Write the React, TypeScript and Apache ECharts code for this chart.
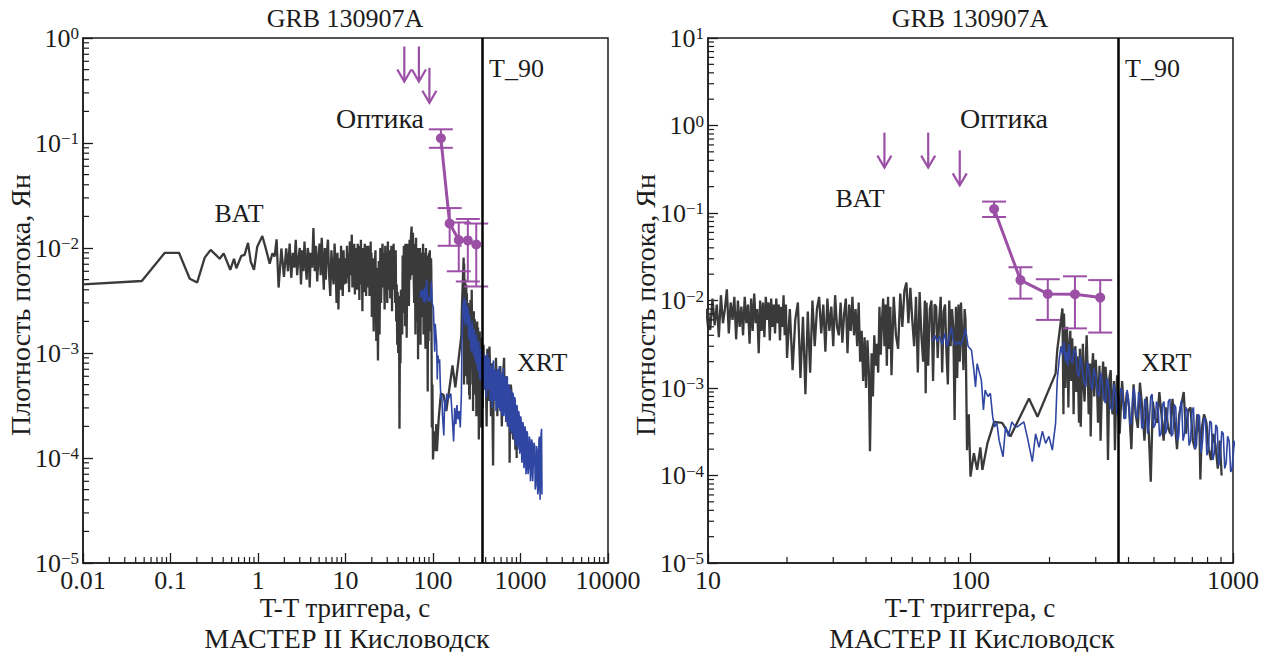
import React, { useEffect, useRef } from 'react';
import * as echarts from 'echarts';

const FONT = '"Liberation Serif", "Times New Roman", serif';
const INK = '#1c1c1c';
const BAT_COLOR = '#3a3a3a';
const XRT_COLOR = '#2f46a3';
const OPT_COLOR = '#9b50a6';

const T90 = 364;
const MILLI = 1e-3;

// Swift/BAT light curve: time (s) and flux density (mJy)
const batTime = [
  0.01, 0.047, 0.086, 0.125, 0.166, 0.202, 0.246, 0.288, 0.365, 0.405,
  0.482, 0.532, 0.565, 0.644, 0.703, 0.769, 0.826, 0.9, 0.98, 1.12,
  1.24, 1.36, 1.46, 1.55, 1.63, 1.72, 1.85, 1.98,
  2.1, 2.2, 2.3, 2.4, 2.5, 2.6, 2.7, 2.8, 2.9, 3.0,
  3.1, 3.2, 3.3, 3.4, 3.5, 3.6, 3.7, 3.8, 3.9, 4.0,
  4.15, 4.3, 4.45, 4.6, 4.75, 4.9, 5.05, 5.2, 5.35, 5.5,
  5.65, 5.8, 5.95, 6.1, 6.3, 6.5, 6.7, 6.9, 7.1, 7.3,
  7.5, 7.7, 7.9, 8.1, 8.3, 8.5, 8.7, 8.9, 9.1, 9.3,
  9.5, 9.7, 9.9,
  10.0, 10.2, 10.4, 10.6, 10.8, 11.0, 11.2, 11.4, 11.6, 11.8,
  12.0, 12.2, 12.4, 12.6, 12.8, 13.0, 13.2, 13.4, 13.6, 13.8,
  14.0, 14.2, 14.4, 14.6, 14.8, 15.0, 15.2, 15.4, 15.6, 15.8,
  16.0, 16.2, 16.4, 16.6, 16.8, 17.0, 17.2, 17.4, 17.6, 17.8,
  18.0, 18.2, 18.4, 18.6, 18.8, 19.0, 19.2, 19.4, 19.6, 19.8,
  20.0, 20.5, 21.0, 21.5, 22.0, 22.5, 23.0, 23.5, 24.0, 24.5,
  25.0, 25.5, 26.0, 26.5, 27.0, 27.5, 28.0, 28.5, 29.0, 29.5,
  30.0, 30.5, 31.0, 31.5, 32.0, 32.5, 33.0, 33.5, 34.0, 34.5,
  35.0, 35.5, 36.0, 36.5, 37.0, 37.5, 38.0, 38.5, 39.0, 39.5,
  40.0, 40.5, 41.0, 41.4, 42.0, 42.5, 43.0, 43.5, 44.0, 44.5,
  45.0, 45.5, 46.0, 46.5, 47.0, 47.5, 48.0, 48.5, 49.0, 49.5,
  50, 51, 52, 53, 54, 55, 56, 57, 58, 59,
  60, 61, 62, 63, 64, 65, 66, 67, 67.5, 68,
  69, 70, 71, 72, 73, 74, 75, 76, 77, 78,
  79, 80, 81, 82, 83, 84, 85, 86, 87, 88,
  89, 90, 91, 92, 93, 94, 95, 95.7, 97, 98.5,
  100, 103, 106, 109, 111, 116, 123, 132, 142, 167,
  180, 211, 214,
  224, 225, 226, 227, 229, 230, 232, 233, 235, 236,
  238, 240, 242, 244, 246, 247, 249, 251, 253, 255,
  257, 259, 261, 263, 266, 268, 270, 272, 275, 277,
  280, 282, 285, 287, 290, 293, 296, 300, 303, 306,
  310, 313, 317, 320, 324, 327, 331, 334, 338, 342,
  345, 348, 352, 355, 359, 362,
  370, 378, 386, 394, 402, 410, 418, 426, 434, 442,
  451, 460, 469, 478, 486, 495, 504, 514, 524, 534,
  544, 555, 566, 577, 588, 600, 612, 624, 636, 649,
  662, 675, 689, 703, 717, 731, 746, 751, 761, 776,
  792, 808, 824, 841, 858, 875, 892, 905,
];
const batFlux = [
  4.5, 4.85, 9.0, 9.0, 5.1, 4.7, 8.1, 9.6, 7.9, 8.9,
  6.2, 7.9, 6.4, 8.4, 8.6, 11.2, 7.4, 6.2, 10.3, 13.0,
  9.6, 7.1, 8.9, 8.3, 12.1, 4.2, 9.9, 5.3,
  9.9, 6.0, 11.0, 5.2, 9.0, 6.5, 12.0, 5.5, 8.0, 10.0,
  4.5, 9.5, 6.0, 11.5, 7.0, 5.0, 10.0, 8.5, 4.2, 9.0,
  6.5, 15.5, 6.0, 10.5, 4.8, 8.0, 11.0, 5.5, 12.5, 7.0,
  4.0, 10.0, 5.0, 8.5, 12.0, 5.5, 3.5, 9.5, 6.0, 4.5,
  11.0, 7.0, 3.0, 9.0, 2.6, 8.0, 4.0, 10.5, 5.5, 3.5,
  9.5, 4.5, 8.0,
  7.5, 4.6, 10.5, 5.2, 9.0, 3.8, 11.5, 5.5, 8.0, 13.4,
  4.2, 9.5, 6.0, 11.0, 3.6, 10.0, 5.0, 8.5, 4.0, 11.0,
  5.5, 9.0, 3.2, 10.5, 4.5, 12.0, 5.5, 8.0, 2.5, 10.0,
  4.5, 9.5, 3.8, 11.0, 6.0, 9.5, 3.5, 10.5, 5.0, 9.0,
  4.2, 10.5, 5.5, 9.0, 3.5, 8.5, 5.0, 11.5, 4.0, 9.0,
  2.2, 8.0, 1.6, 6.0, 9.5, 1.3, 6.5, 0.85, 7.5, 1.5,
  10.0, 3.0, 8.0, 11.0, 4.2, 9.0, 2.6, 10.5, 4.5, 8.5,
  3.0, 11.5, 5.0, 4.0, 9.5, 3.3, 7.0, 10.5, 2.5, 9.0,
  4.5, 11.0, 4.0, 8.0, 3.0, 9.5, 2.0, 4.5, 1.2, 3.8,
  1.0, 3.5, 1.5, 0.19, 2.5, 0.8, 4.0, 1.8, 3.2, 1.5,
  8.5, 2.4, 6.0, 10.5, 3.0, 9.0, 1.8, 11.0, 2.8, 8.5,
  1.4, 11.0, 4.0, 2.8, 12.0, 5.0, 13.0, 16.0, 5.5, 14.0,
  6.0, 3.0, 11.0, 1.5, 12.5, 4.0, 2.0, 10.0, 0.87, 9.5,
  1.8, 8.0, 10.0, 1.2, 9.0, 8.5, 2.2, 6.0, 11.0, 1.5,
  7.5, 9.0, 2.5, 1.1, 10.0, 3.0, 8.0, 5.0, 0.43, 8.5,
  1.3, 9.0, 2.0, 9.5, 4.0, 1.6, 8.0, 6.0, 0.195, 0.5,
  0.097, 0.18, 0.116, 0.21, 0.116, 0.233, 0.41, 0.40, 0.28, 0.76,
  0.47, 1.47, 2.7,
  8.1, 2.0, 0.5, 7.1, 2.5, 1.0, 4.0, 5.0, 1.5, 0.6,
  3.0, 4.5, 1.2, 3.7, 1.8, 0.5, 2.6, 3.0, 0.9, 2.3,
  1.4, 0.4, 2.8, 0.36, 1.8, 3.2, 1.0, 0.7, 2.2, 4.0,
  1.3, 0.5, 1.9, 0.28, 1.6, 2.5, 0.8, 2.1, 1.2, 0.4,
  1.8, 0.25, 1.1, 2.0, 0.7, 1.75, 1.0, 0.15, 1.3, 1.6,
  0.6, 0.5, 1.2, 0.195, 0.9, 1.4,
  0.3, 1.2, 0.45, 0.9, 0.6, 0.2, 1.1, 0.5, 0.35, 1.15,
  0.6, 0.25, 0.8, 0.3, 0.085, 0.7, 0.45, 0.4, 0.9, 0.5,
  0.25, 0.6, 0.35, 0.3, 0.75, 0.4, 0.2, 0.5, 0.65, 0.9,
  0.3, 0.55, 0.6, 0.25, 0.2, 0.5, 0.3, 0.09, 0.35, 0.5,
  0.4, 0.2, 0.15, 0.3, 0.22, 0.12, 0.25, 0.1,
];

// Swift/XRT light curve: time (s) and flux density (mJy)
const xrtTime = [
  71.4, 73.1, 74.6, 76.2, 78.0, 79.8, 81.5, 83.2, 84.5, 86.2,
  87.8, 89.8, 91.8, 93.8, 95.7, 97.9, 100.9, 103, 104.5, 106,
  108.3, 110, 112, 113.7, 116.5, 119, 121.5, 123.5, 126, 128.6,
  133, 136, 139.5, 143.7, 148, 150.7, 159.7, 164.4, 172, 177,
  182.4, 187.8, 193.3, 199, 205,
  211, 214, 218, 221, 224, 227, 230, 232, 235, 237,
  240, 244, 248, 252, 255, 259, 262, 265, 270, 275,
  279, 283, 287, 291, 295, 300, 304, 309, 313, 317,
  322, 327, 331, 336, 341, 347, 352, 357, 362, 368,
  374, 380, 385, 390, 395, 400, 405, 410, 415, 420,
  426, 432, 437, 443, 449, 455, 461, 467, 473, 480,
  486, 492, 498, 505, 511, 518, 525, 532, 539, 546,
  553, 560, 567, 575, 582, 590, 597, 605, 613, 621,
  629, 637, 645, 654, 662, 671, 680, 689, 698, 707,
  716, 726, 735, 745, 755, 765, 775, 785, 795, 806,
  816, 827, 838, 849, 860, 871, 882, 894, 906, 918,
  930, 942, 954, 967, 980, 993, 1007, 1020, 1035, 1050,
  1065, 1080, 1095, 1110, 1125, 1140, 1155, 1170, 1185, 1200,
  1220, 1240, 1260, 1280, 1300, 1320, 1340, 1360, 1380, 1400,
  1425, 1450, 1475, 1500, 1525, 1550, 1575, 1600, 1625, 1650,
  1675, 1700, 1720, 1740, 1760,
];
const xrtFlux = [
  3.4, 4.0, 3.4, 3.9, 3.1, 4.2, 3.0, 3.9, 5.0, 3.4,
  3.1, 3.4, 3.1, 3.7, 4.8, 3.0, 2.7, 1.6, 1.03, 1.9,
  1.47, 1.23, 0.56, 0.95, 0.8, 0.87, 0.47, 0.36, 0.40, 0.25,
  0.164, 0.36, 0.28, 0.41, 0.36, 0.36, 0.41, 0.28, 0.144, 0.30,
  0.21, 0.32, 0.233, 0.28, 0.195,
  0.40, 1.22, 2.2, 3.0, 2.4, 3.4, 2.0, 2.6, 1.8, 3.2,
  2.2, 1.9, 2.8, 2.5, 1.5, 1.35, 2.3, 1.9, 1.2, 1.03,
  2.0, 1.6, 1.1, 0.95, 1.7, 1.35, 0.9, 0.8, 1.5, 1.23,
  0.75, 0.67, 1.3, 1.03, 0.6, 0.56, 1.1, 0.87, 0.5, 0.61,
  1.0, 0.9, 0.45, 0.45, 0.95, 0.75, 0.38, 0.4, 0.85, 1.0,
  0.5, 0.45, 0.9, 0.8, 0.35, 0.35, 0.75, 0.7, 0.3, 0.42,
  0.8, 0.85, 0.35, 0.38, 0.7, 0.65, 0.28, 0.3, 0.65, 0.7,
  0.3, 0.35, 0.7, 0.75, 0.28, 0.3, 0.65, 0.6, 0.25, 0.28,
  0.6, 0.72, 0.25, 0.3, 0.6, 0.55, 0.22, 0.25, 0.55, 0.6,
  0.2, 0.22, 0.5, 0.48, 0.18, 0.24, 0.45, 0.45, 0.17, 0.2,
  0.42, 0.4, 0.15, 0.18, 0.38, 0.35, 0.13, 0.16, 0.32, 0.3,
  0.12, 0.14, 0.28, 0.25, 0.11, 0.12, 0.25, 0.22, 0.09, 0.1,
  0.22, 0.2, 0.08, 0.09, 0.2, 0.18, 0.07, 0.08, 0.18, 0.17,
  0.07, 0.08, 0.16, 0.15, 0.06, 0.07, 0.15, 0.14, 0.06, 0.06,
  0.14, 0.13, 0.05, 0.055, 0.13, 0.12, 0.045, 0.05, 0.15, 0.16,
  0.04, 0.04, 0.17, 0.19, 0.045,
];

// MASTER II Kislovodsk optical points (Jy)
const optTime = [123, 155, 197, 250, 312];
const optFlux = [0.111, 0.0171, 0.0119, 0.0118, 0.0108];
const optLow = [0.090, 0.0105, 0.0060, 0.0048, 0.0043];
const optHigh = [0.135, 0.0240, 0.0175, 0.0189, 0.0171];

// Optical upper limits (Jy)
const ulTime = [47, 69, 91];
const ulFlux = [0.83, 0.83, 0.52];

const leftXLabels = ['0.01', '0.1', '1', '10', '100', '1000', '10000'];
const rightXLabels = ['10', '100', '1000'];
const minorMantissas = [2, 3, 4, 5, 6, 7, 8, 9];

const batData = batTime.map((t, i) => [t, batFlux[i] * MILLI]);
const xrtData = xrtTime.map((t, i) => [t, xrtFlux[i] * MILLI]);
const optData = optTime.map((t, i) => [t, optFlux[i]]);
const errData = optTime.map((t, i) => [t, optFlux[i], optLow[i], optHigh[i]]);
const ulData = ulTime.map((t, i) => [t, ulFlux[i]]);

function minorValues(min: number, max: number) {
  const out: number[] = [];
  const a = Math.round(Math.log10(min));
  const b = Math.round(Math.log10(max));
  for (let d = a; d < b; d++) {
    for (const m of minorMantissas) out.push(m * Math.pow(10, d));
  }
  return out;
}

function supText(e: number) {
  return e < 0 ? '\u2212' + String(-e) : String(e);
}

function buildOption() {
  const panels = [
    { left: 83, xMin: 0.01, xMax: 10000, yMin: 1e-5, yMax: 1, xLabels: leftXLabels },
    { left: 708, xMin: 10, xMax: 1000, yMin: 1e-5, yMax: 10, xLabels: rightXLabels },
  ];
  const grid: any[] = [];
  const xAxis: any[] = [];
  const yAxis: any[] = [];
  const series: any[] = [];

  panels.forEach((p, i) => {
    grid.push({
      left: p.left, top: 38, width: 525, height: 525,
      show: true, borderColor: INK, borderWidth: 1.5, backgroundColor: 'transparent',
    });
    const xLog0 = Math.round(Math.log10(p.xMin));
    xAxis.push({
      type: 'log', logBase: 10, gridIndex: i, min: p.xMin, max: p.xMax,
      axisLine: { show: true, onZero: false, lineStyle: { color: INK, width: 1.5 } },
      axisTick: { show: true, inside: true, length: 10, lineStyle: { color: INK, width: 1.3 } },
      splitLine: { show: false },
      axisLabel: {
        color: INK, fontSize: 26, fontFamily: FONT, margin: 6, lineHeight: 22,
        formatter: (v: number) => p.xLabels[Math.round(Math.log10(v)) - xLog0] ?? '',
      },
    });
    yAxis.push({
      type: 'log', logBase: 10, gridIndex: i, min: p.yMin, max: p.yMax,
      axisLine: { show: true, onZero: false, lineStyle: { color: INK, width: 1.5 } },
      axisTick: { show: true, inside: true, length: 10, lineStyle: { color: INK, width: 1.3 } },
      splitLine: { show: false },
      axisLabel: {
        margin: 4,
        formatter: (v: number) => `{b|10}{s|${supText(Math.round(Math.log10(v)))}}`,
        rich: {
          b: { fontSize: 26, fontFamily: FONT, color: INK, lineHeight: 26, verticalAlign: 'bottom' },
          s: { fontSize: 17, fontFamily: FONT, color: INK, lineHeight: 17, verticalAlign: 'top', padding: [0, 0, 14, 0] },
        },
      },
    });

    series.push({
      type: 'line', xAxisIndex: i, yAxisIndex: i, data: batData,
      symbol: 'none', showSymbol: false, z: 2,
      lineStyle: { color: BAT_COLOR, width: 2.3 }, itemStyle: { color: BAT_COLOR },
      markLine: {
        silent: true, symbol: 'none', label: { show: false },
        lineStyle: { color: '#000', width: 2.5, type: 'solid' },
        data: [{ xAxis: T90 }],
      },
    });
    series.push({
      type: 'line', xAxisIndex: i, yAxisIndex: i, data: xrtData,
      symbol: 'none', showSymbol: false, z: 3,
      lineStyle: { color: XRT_COLOR, width: 1.6 }, itemStyle: { color: XRT_COLOR },
    });
    series.push({
      type: 'custom', xAxisIndex: i, yAxisIndex: i, data: errData, z: 4,
      encode: { x: 0, y: 1 },
      renderItem: (_params: any, api: any) => {
        const t = api.value(0);
        const lo = api.coord([t, api.value(2)]);
        const hi = api.coord([t, api.value(3)]);
        const w = 12;
        const st = { stroke: OPT_COLOR, lineWidth: 2 };
        return {
          type: 'group',
          children: [
            { type: 'line', shape: { x1: lo[0], y1: lo[1], x2: hi[0], y2: hi[1] }, style: st },
            { type: 'line', shape: { x1: lo[0] - w, y1: lo[1], x2: lo[0] + w, y2: lo[1] }, style: st },
            { type: 'line', shape: { x1: hi[0] - w, y1: hi[1], x2: hi[0] + w, y2: hi[1] }, style: st },
          ],
        };
      },
    });
    series.push({
      type: 'line', xAxisIndex: i, yAxisIndex: i, data: optData, z: 5,
      symbol: 'circle', symbolSize: 10, showSymbol: true,
      lineStyle: { color: OPT_COLOR, width: 3 }, itemStyle: { color: OPT_COLOR },
    });
    series.push({
      type: 'custom', xAxisIndex: i, yAxisIndex: i, data: ulData, z: 5,
      encode: { x: 0, y: 1 },
      renderItem: (_params: any, api: any) => {
        const c = api.coord([api.value(0), api.value(1)]);
        const L = 35, hw = 7, hh = 12;
        const st = { stroke: OPT_COLOR, lineWidth: 2.2, fill: 'none' };
        return {
          type: 'group',
          children: [
            { type: 'line', shape: { x1: c[0], y1: c[1], x2: c[0], y2: c[1] + L }, style: st },
            { type: 'polyline', shape: { points: [[c[0] - hw, c[1] + L - hh], [c[0], c[1] + L], [c[0] + hw, c[1] + L - hh]] }, style: st },
          ],
        };
      },
    });
    // minor ticks on x axis
    series.push({
      type: 'custom', xAxisIndex: i, yAxisIndex: i, z: 6, silent: true,
      data: minorValues(p.xMin, p.xMax).map((m) => [m, p.yMin]),
      encode: { x: 0, y: 1 },
      renderItem: (_params: any, api: any) => {
        const c = api.coord([api.value(0), api.value(1)]);
        return { type: 'line', shape: { x1: c[0], y1: c[1], x2: c[0], y2: c[1] - 6 }, style: { stroke: INK, lineWidth: 1.2 } };
      },
    });
    // minor ticks on y axis
    series.push({
      type: 'custom', xAxisIndex: i, yAxisIndex: i, z: 6, silent: true,
      data: minorValues(p.yMin, p.yMax).map((m) => [p.xMin, m]),
      encode: { x: 0, y: 1 },
      renderItem: (_params: any, api: any) => {
        const c = api.coord([api.value(0), api.value(1)]);
        return { type: 'line', shape: { x1: c[0], y1: c[1], x2: c[0] + 6, y2: c[1] }, style: { stroke: INK, lineWidth: 1.2 } };
      },
    });
  });

  const txt = (text: string, x: number, y: number, size = 26, align = 'center', rotation = 0) => ({
    type: 'text', x, y, rotation, z: 10,
    style: { text, fontSize: size, lineHeight: size, fontFamily: FONT, fill: INK, align, verticalAlign: 'middle' },
  });

  const graphic = [
    txt('GRB 130907A', 345, 18),
    txt('GRB 130907A', 970, 18),
    txt('Плотность потока, Ян', 20, 305, 28, 'center', Math.PI / 2),
    txt('Плотность потока, Ян', 645, 305, 28, 'center', Math.PI / 2),
    txt('T-T триггера, с', 345, 608, 27),
    txt('T-T триггера, с', 970, 608, 27),
    txt('МАСТЕР II Кисловодск', 347, 638, 28),
    txt('МАСТЕР II Кисловодск', 972, 638, 28),
    txt('Оптика', 380, 118, 28),
    txt('Оптика', 1004, 118, 28),
    txt('BAT', 239, 213),
    txt('BAT', 860, 198),
    txt('T_90', 489, 68, 26, 'left'),
    txt('T_90', 1125, 68, 26, 'left'),
    txt('XRT', 517, 362, 26, 'left'),
    txt('XRT', 1141, 362, 26, 'left'),
  ];

  return { animation: false, backgroundColor: '#ffffff', grid, xAxis, yAxis, series, graphic };
}

export default function App() {
  const ref = useRef<HTMLDivElement>(null);
  useEffect(() => {
    if (!ref.current) return;
    const chart = echarts.init(ref.current, null, { renderer: 'svg' });
    chart.setOption(buildOption() as any);
    return () => chart.dispose();
  }, []);
  return (
    <div
      ref={ref}
      style={{ position: 'fixed', left: 0, top: 0, width: 1271, height: 652, background: '#fff' }}
    />
  );
}
